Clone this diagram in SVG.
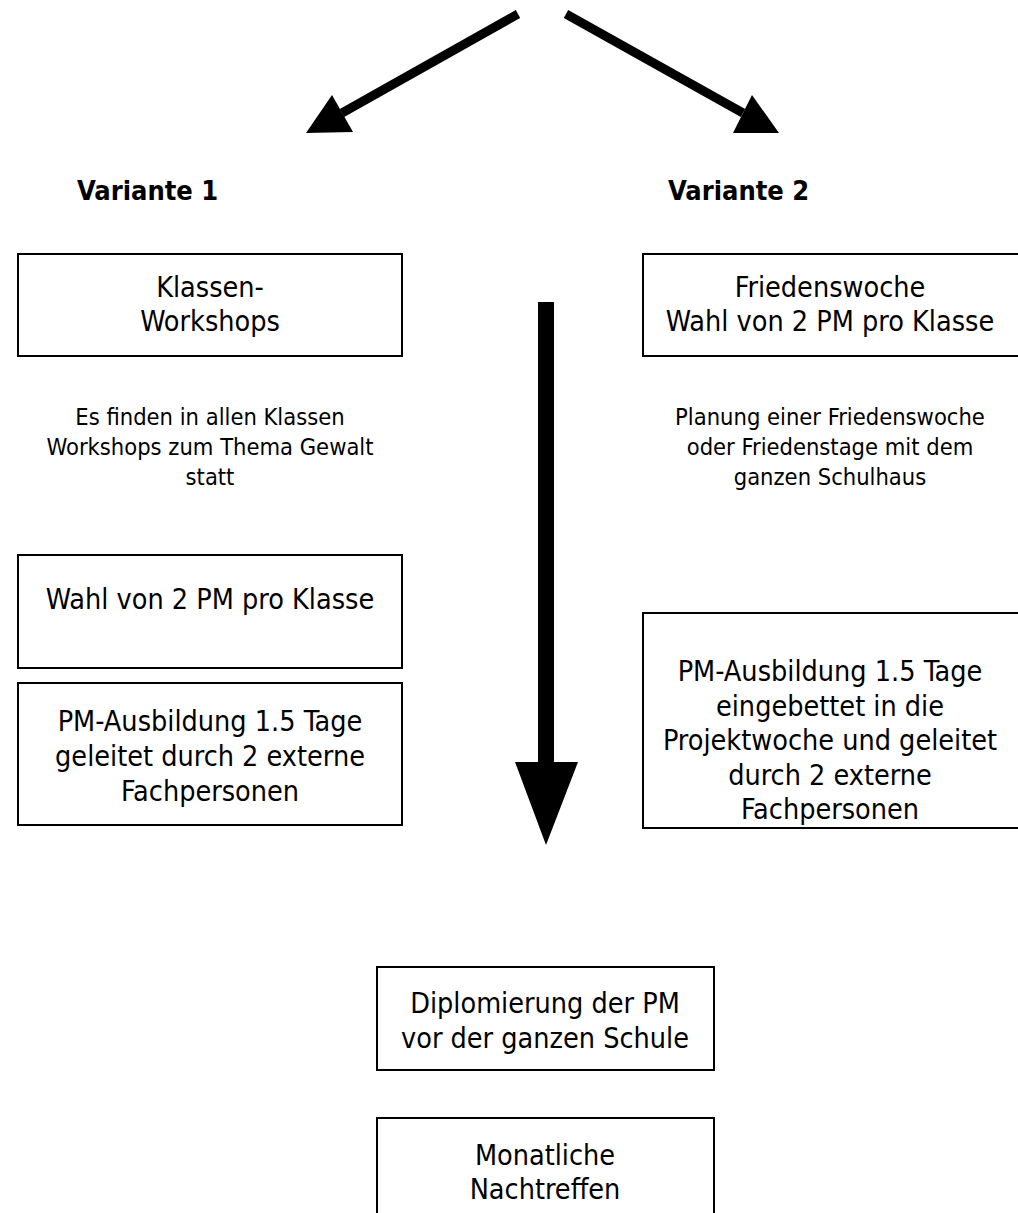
<svg xmlns="http://www.w3.org/2000/svg" width="1018" height="1213" viewBox="0 0 1018 1213">
<style>
.box{fill:#fff;stroke:#000;stroke-width:2}
.t{font-family:"DejaVu Sans Condensed","DejaVu Sans",sans-serif;font-stretch:condensed;font-size:28.5px;fill:#000;text-anchor:middle}
.s{font-family:"DejaVu Sans Condensed","DejaVu Sans",sans-serif;font-stretch:condensed;font-size:23.5px;fill:#000;text-anchor:middle}
.h{font-family:"DejaVu Sans Condensed","DejaVu Sans",sans-serif;font-stretch:condensed;font-size:27px;font-weight:bold;fill:#000}
.ln{stroke:#000;fill:none}
</style>
<rect width="1018" height="1213" fill="#fff"/>
<g id="connectors">
<line class="ln" x1="518" y1="14" x2="342" y2="113" stroke-width="9"/>
<polygon points="332,95 306,133 353,132" fill="#000"/>
<line class="ln" x1="566" y1="14" x2="743" y2="113" stroke-width="9"/>
<polygon points="752,95 733,133 779,133" fill="#000"/>
<rect x="538" y="302" width="16" height="462" fill="#000"/>
<polygon points="515,762 578,762 546,845" fill="#000"/>
</g>
<g id="label-v1"><text class="h" x="77" y="200">Variante 1</text></g>
<g id="label-v2"><text class="h" x="668" y="200">Variante 2</text></g>
<g id="n-klassen">
<rect class="box" x="18" y="254" width="384" height="102"/>
<text class="t" x="210" y="297">Klassen-</text>
<text class="t" x="210" y="331">Workshops</text>
</g>
<g id="n-friedenswoche">
<rect class="box" x="643" y="254" width="380" height="102"/>
<text class="t" x="830" y="297">Friedenswoche</text>
<text class="t" x="830" y="331">Wahl von 2 PM pro Klasse</text>
</g>
<g id="txt-left">
<text class="s" x="210" y="425">Es finden in allen Klassen</text>
<text class="s" x="210" y="455">Workshops zum Thema Gewalt</text>
<text class="s" x="210" y="485">statt</text>
</g>
<g id="txt-right">
<text class="s" x="830" y="425">Planung einer Friedenswoche</text>
<text class="s" x="830" y="455">oder Friedenstage mit dem</text>
<text class="s" x="830" y="485">ganzen Schulhaus</text>
</g>
<g id="n-wahl">
<rect class="box" x="18" y="555" width="384" height="113"/>
<text class="t" x="210" y="609">Wahl von 2 PM pro Klasse</text>
</g>
<g id="n-ausbildung1">
<rect class="box" x="18" y="683" width="384" height="142"/>
<text class="t" x="210" y="731">PM-Ausbildung 1.5 Tage</text>
<text class="t" x="210" y="766">geleitet durch 2 externe</text>
<text class="t" x="210" y="801">Fachpersonen</text>
</g>
<g id="n-ausbildung2">
<rect class="box" x="643" y="613" width="380" height="215"/>
<text class="t" x="830" y="681">PM-Ausbildung 1.5 Tage</text>
<text class="t" x="830" y="716">eingebettet in die</text>
<text class="t" x="830" y="750">Projektwoche und geleitet</text>
<text class="t" x="830" y="785">durch 2 externe</text>
<text class="t" x="830" y="819">Fachpersonen</text>
</g>
<g id="n-diplom">
<rect class="box" x="377" y="967" width="337" height="103"/>
<text class="t" x="545" y="1013">Diplomierung der PM</text>
<text class="t" x="545" y="1048">vor der ganzen Schule</text>
</g>
<g id="n-monatlich">
<rect class="box" x="377" y="1118" width="337" height="110"/>
<text class="t" x="545" y="1165">Monatliche</text>
<text class="t" x="545" y="1199">Nachtreffen</text>
</g>
</svg>
